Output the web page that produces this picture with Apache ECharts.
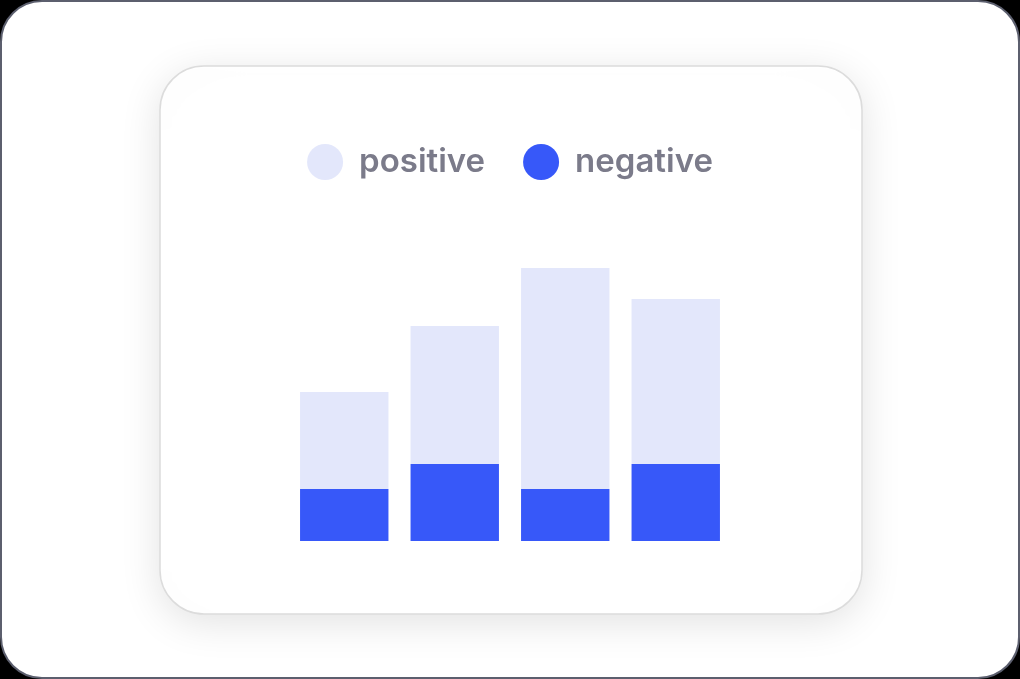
<!DOCTYPE html>
<html>
<head>
<meta charset="utf-8">
<script src="https://cdn.jsdelivr.net/npm/echarts@6/dist/echarts.min.js"></script>
<style>
html,body{margin:0;padding:0;background:#000;}
.frame{position:absolute;left:0;top:0;width:1016px;height:675px;border:2px solid #5c5f6e;border-radius:42px;background:#fff;overflow:hidden;}
#chart{position:absolute;left:-2px;top:-2px;width:1020px;height:679px;}
</style>
</head>
<body>
<div class="frame"><div id="chart"></div></div>
<script>
var categories=['A','B','C','D'];
var positive=[97, 138, 221, 165];
var negative=[52, 77, 52, 77];

var chart=echarts.init(document.getElementById('chart'));
var option={
    animation:false,
    graphic:[
      {
        type:'rect',
        z:-10,
        shape:{x:160,y:66,width:702,height:548,r:44},
        style:{
          fill:'#fff',
          stroke:'#dcdcdc',
          lineWidth:1.5,
          shadowBlur:40,
          shadowColor:'rgba(0,0,0,0.12)',
          shadowOffsetY:8
        }
      }
    ],
    legend:{
      data:['positive','negative'],
      left:'center',
      top:139,
      icon:'circle',
      itemWidth:36,
      itemHeight:36,
      itemGap:38,
      textStyle:{
        color:'#7b7b8a',
        fontSize:33,
        fontFamily:'Inter',
        fontWeight:600,
        padding:[0,0,0,11]
      }
    },
    grid:{left:289,right:289,top:241,bottom:138},
    xAxis:{
      type:'category',
      data:categories,
      show:false
    },
    yAxis:{
      type:'value',
      min:0,
      max:300,
      show:false
    },
    series:[
      {
        name:'negative',
        type:'bar',
        stack:'total',
        barWidth:'80%',
        itemStyle:{color:'#3758f9'},
        data:negative
      },
      {
        name:'positive',
        type:'bar',
        stack:'total',
        barWidth:'80%',
        itemStyle:{color:'#e3e7fb'},
        data:positive
      }
    ]
};
chart.setOption(option);
</script>
</body>
</html>
